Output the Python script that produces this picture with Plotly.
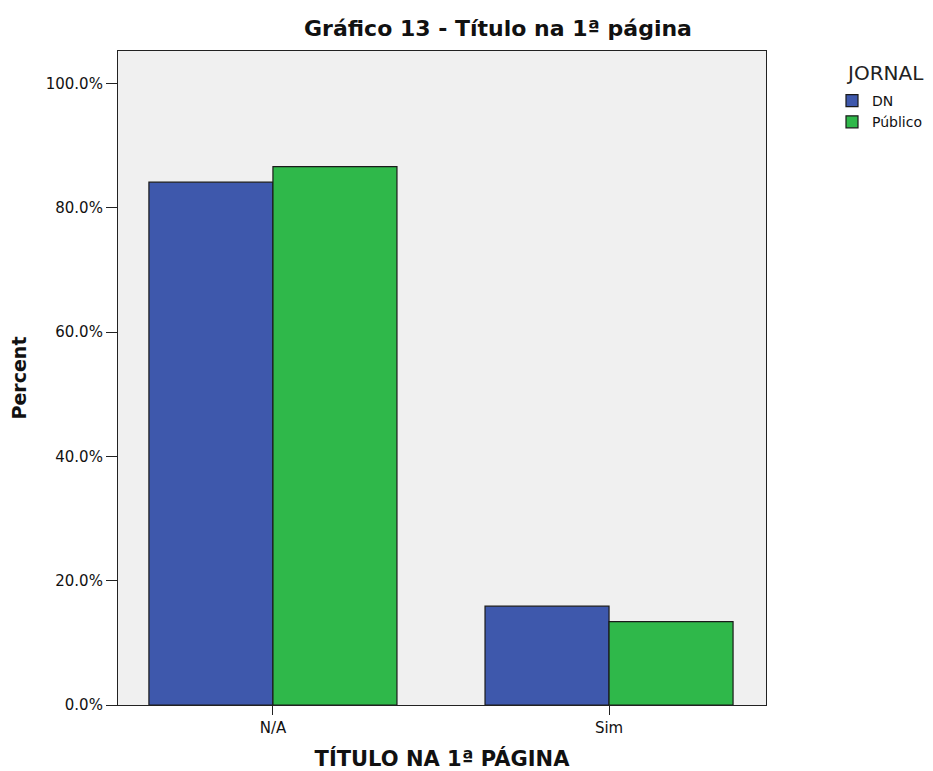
import plotly.graph_objects as go

categories = ["N/A", "Sim"]
series_names = ["DN", "Público"]
dn_values = [0.841, 0.159]
publico_values = [0.866, 0.134]
y_tick_values = [0.0, 0.2, 0.4, 0.6, 0.8, 1.0]
colors = ["#3E58AC", "#2FB84A"]

FONT = "DejaVu Sans, Liberation Sans, Arial, sans-serif"

fig = go.Figure()
for name, vals, col in zip(series_names, [dn_values, publico_values], colors):
    fig.add_trace(go.Bar(
        x=categories, y=vals, name=name,
        marker=dict(color=col, line=dict(color="#1a1a1a", width=1.2)),
    ))

# page has an 8px body margin: compensate so the plot lands where the reference has it
OFF = 8
W, H = 933 - OFF, 771 - OFF
ml, mr, mt, mb = 110, 167, 43, 66
pw, ph = W - ml - mr, H - mt - mb

def px_to_xpaper(sx):   # screen x -> plot-relative paper x
    return (sx - OFF - ml) / pw

def py_to_ypaper(sy):   # screen y -> plot-relative paper y
    return 1 - (sy - OFF - mt) / ph

fig.update_layout(
    width=W, height=H,
    margin=dict(l=ml, r=mr, t=mt, b=mb, autoexpand=False),
    paper_bgcolor="white",
    plot_bgcolor="#F0F0F0",
    barmode="group",
    bargap=0.262,
    bargroupgap=0,
    font=dict(family=FONT, size=15, color="#111"),
    title=dict(text="<b>Gráfico 13 - Título na 1ª página</b>",
               x=(498 - OFF) / W, xanchor="center", y=1 - (28 - OFF) / H, yanchor="middle",
               font=dict(size=22, color="#111")),
    showlegend=True,
    legend=dict(
        x=px_to_xpaper(832), xanchor="left",
        y=py_to_ypaper(85), yanchor="top",
        bgcolor="rgba(0,0,0,0)",
        font=dict(size=14, color="#111"),
        tracegroupgap=0,
    ),
    annotations=[dict(
        text="JORNAL", xref="paper", yref="paper",
        x=px_to_xpaper(844), xanchor="left",
        y=py_to_ypaper(73), yanchor="middle",
        showarrow=False, font=dict(size=20, color="#222"),
    )],
    xaxis=dict(
        title=dict(text="<b>TÍTULO NA 1ª PÁGINA</b>", font=dict(size=21, color="#111"), standoff=20),
        range=[-0.461, 1.467],
        showline=True, linecolor="#222", linewidth=1.2, mirror=True,
        ticks="outside", ticklen=9, tickcolor="#222",
        tickfont=dict(size=15),
        showgrid=False,
    ),
    yaxis=dict(
        title=dict(text="<b>Percent</b>", font=dict(size=19, color="#111"), standoff=16),
        range=[0, 1.052],
        tickvals=y_tick_values,
        tickformat=".1%",
        showline=True, linecolor="#222", linewidth=1.2, mirror=True,
        ticks="outside", ticklen=11, tickcolor="#222",
        tickfont=dict(size=15),
        showgrid=False, zeroline=False,
    ),
)

fig.write_html("out.html")
